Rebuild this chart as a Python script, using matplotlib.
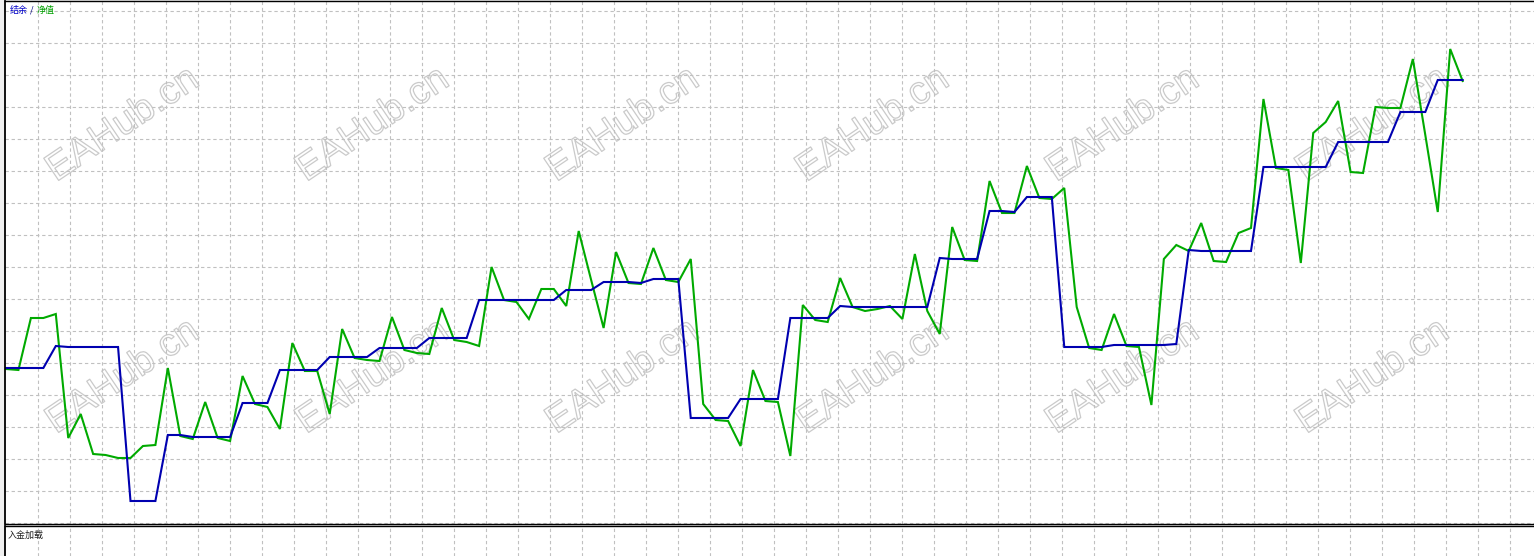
import matplotlib
matplotlib.use('Agg')
import matplotlib.pyplot as plt
import matplotlib.patheffects as pe
import numpy as np

# strategy tester report graph: balance (blue) and equity (green), one value per trade

equity = [154, 153, 205, 205, 209, 85, 109, 69, 68, 65,
          65, 77, 78, 155, 87, 84, 121, 85, 82, 147,
          119, 116, 94, 180, 152, 152, 109, 194, 165, 163,
          162, 206, 173, 170, 169, 215, 183, 181, 177, 256,
          223, 221, 204, 234, 234, 217, 292, 243, 195, 271,
          240, 239, 275, 243, 241, 264, 119, 103, 102, 77,
          153, 122, 121, 67, 218, 203, 201, 245, 216, 212,
          214, 217, 204, 269, 212, 189, 296, 263, 262, 342,
          310, 310, 357, 325, 324, 335, 216, 175, 173, 209,
          177, 176, 118, 264, 278, 272, 300, 262, 261, 290,
          295, 424, 355, 353, 260, 390, 401, 422, 351, 350,
          416, 415, 415, 464, 388, 311, 474, 442]

balance = [155, 155, 155, 155, 177, 176, 176, 176, 176, 176,
           22, 22, 22, 88, 88, 86, 86, 86, 86, 120,
           120, 120, 153, 153, 153, 153, 166, 166, 166, 166,
           175, 175, 175, 175, 185, 185, 185, 185, 223, 223,
           223, 223, 223, 223, 223, 233, 233, 233, 241, 241,
           241, 240, 244, 244, 244, 105, 105, 105, 105, 124,
           124, 124, 124, 205, 205, 205, 205, 217, 216, 216,
           216, 216, 216, 216, 216, 265, 264, 264, 264, 312,
           312, 311, 326, 326, 326, 176, 176, 176, 176, 178,
           178, 178, 178, 178, 179, 273, 272, 272, 272, 272,
           272, 356, 356, 356, 356, 356, 356, 381, 381, 381,
           381, 381, 411, 411, 411, 443, 443, 443]

legend_parts = ['结余', ' / ', '净值']
bottom_label = '入金加载'
watermark = 'EAHub.cn'

W, H = 1534, 556
# pixel layout of the original window
step = 12.45      # px per trade
x_first = 6       # px of first trade
left_px = 5

fig = plt.figure(figsize=(W / 100, H / 100), dpi=100, facecolor='#f0f0f0')
ax = fig.add_axes([left_px / W, (H - 524) / H, (W - left_px) / W, 523 / H])
ax2 = fig.add_axes([left_px / W, 0, (W - left_px) / W, (H - 526) / H])

x = np.arange(len(equity))
ax.plot(x, equity, color='#00aa00', lw=1.5, solid_joinstyle='miter')
ax.plot(x, balance, color='#0000b0', lw=1.5, solid_joinstyle='miter')

xl = ((left_px - x_first) / step, (W - x_first) / step)
vgrid = [(38 + 32 * k - x_first) / step for k in range(47)]
for a in (ax, ax2):
    a.set_xlim(*xl)
    a.set_xticks(vgrid)
    a.tick_params(length=0, labelbottom=False, labelleft=False)
    a.grid(True, color='#c0c0c0', lw=0.8, ls=(0, (3, 2.5)))
    a.set_axisbelow(True)
    for s in a.spines.values():
        s.set_color('black')
    a.spines['right'].set_visible(False)
    a.spines['left'].set_linewidth(1.3)

ax.set_ylim(-1, 522)
ax.set_yticks(np.arange(0, 513, 32))
ax.spines['top'].set_linewidth(1.0)
ax.spines['bottom'].set_linewidth(1.0)
ax2.set_yticks([])
ax2.set_ylim(0, 1)
ax2.spines['bottom'].set_visible(False)
ax2.spines['top'].set_linewidth(1.0)

# watermarks
for row_y in (125, 377):
    for k in range(6):
        ax.annotate(watermark, (123 + 250 * k, H - row_y), xycoords='figure pixels',
                    ha='center', va='center', rotation=34, fontsize=28,
                    family='Liberation Sans', color='none',
                    path_effects=[pe.Stroke(linewidth=0.9, foreground='#cacaca')],
                    zorder=0)

cjk = ['Noto Sans CJK SC', 'DejaVu Sans']
for txt, px, col in zip(legend_parts, (10, 28, 37), ('#0000c8', '#000080', '#00a000')):
    fig.text(px / W, (H - 10) / H, txt, ha='left', va='center', fontsize=6.5,
             color=col, family=cjk)
fig.text(8 / W, (H - 535) / H, bottom_label, ha='left', va='center', fontsize=6.5,
         color='#202020', family=cjk)

fig.savefig('out.png', dpi=100, facecolor=fig.get_facecolor())
